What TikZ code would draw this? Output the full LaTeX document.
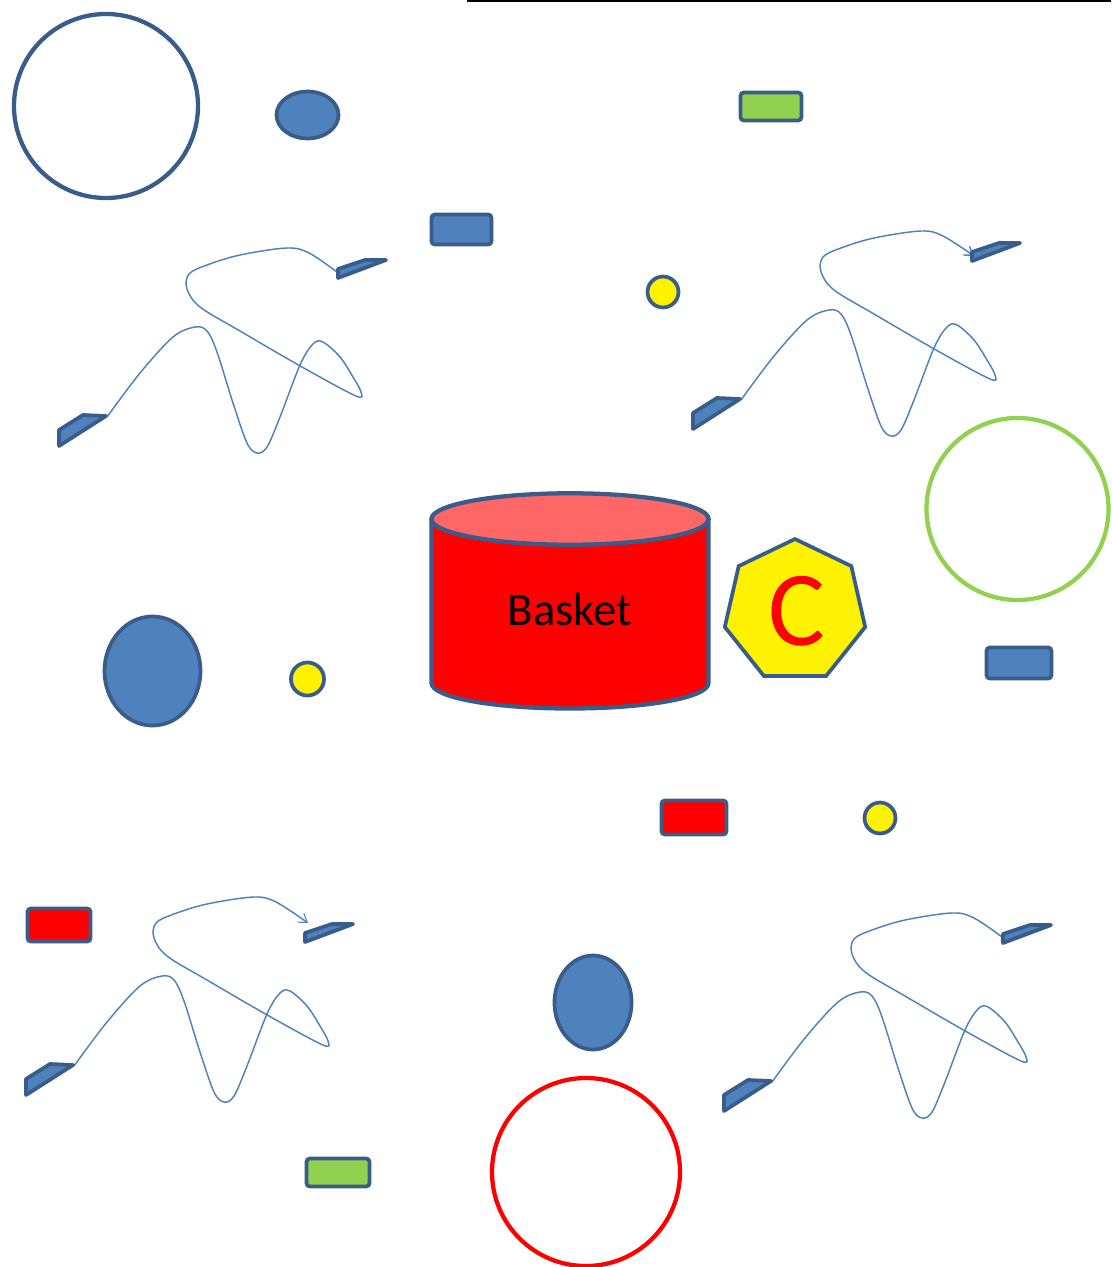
\documentclass[tikz,border=0pt]{standalone}
\usepackage{fontspec}
\setmainfont{Carlito}
\usetikzlibrary{arrows.meta}
\definecolor{dkblue}{HTML}{385D8A}
\definecolor{mdblue}{HTML}{4F81BD}
\definecolor{lgreen}{HTML}{92D050}
\definecolor{ltred}{HTML}{FF6666}
\tikzset{
  outl/.style={draw=dkblue,line width=2.8pt},
  bluebox/.style={outl,fill=mdblue,rounded corners=2.5pt},
  redbox/.style={outl,fill=red,rounded corners=2.5pt},
  greenbox/.style={outl,fill=lgreen,rounded corners=2.5pt},
  dot/.style={outl,fill=yellow},
  blob/.style={outl,fill=mdblue},
  squigline/.style={draw=mdblue,line width=1.1pt},
  plate/.style={draw=dkblue,fill=mdblue,line width=2.8pt,line join=round},
  ring/.style={line width=3.2pt},
}
\newcommand\squigcurve[2]{\draw[squigline,#1] plot[smooth,tension=0.55] coordinates {(107,417) (140,373) (173,337) (195,327) (207,331) (217,352) (233,403) (247,443) (257,453) (267,447) (280,417) (300,365) (313,344) (323,342) (340,357) (353,377) (361,392) (356,396) (302,367) (240,331) (200,307) (187,289) (189,274) (207,265) (240,255) (287,248) (309,253) #2};}
\newcommand\lowplate{\draw[plate] (59,430) -- (83,415) -- (106,416) -- (59,446) -- cycle;}
\newcommand\highplate{\draw[plate] (338,269) -- (365,260) -- (386,260) -- (338,278) -- cycle;}
\begin{document}
\begin{tikzpicture}[x=0.75pt,y=-0.75pt]
\useasboundingbox (0,0) rectangle (1111,1267);
% top edge line
\draw[black,line width=2.5pt] (467,0) -- (1111,0);

% squiggle 1 (top left)
\squigcurve{}{(337,272)}
\lowplate
\highplate
% squiggle 2 (top right)
\begin{scope}[shift={(634,-17)}]
\squigcurve{-{Straight Barb[length=6pt,width=8pt]}}{(340,273)}
\lowplate
\highplate
\end{scope}
% squiggle 3 (bottom left)
\begin{scope}[shift={(-33,649)}]
\squigcurve{-{Straight Barb[length=6pt,width=8pt,line width=0.8pt]}}{(341,274)}
\lowplate
\end{scope}
\begin{scope}[shift={(-33,664)}]
\highplate
\end{scope}
% squiggle 4 (bottom right)
\begin{scope}[shift={(665,665)}]
\squigcurve{}{(337,272)}
\lowplate
\highplate
\end{scope}

% circles and ellipses
\draw[ring,draw=dkblue] (106,106) circle[radius=69pt];
\draw[blob] (307.5,115) ellipse[x radius=23.25pt,y radius=17.6pt];
\draw[ring,draw=lgreen] (1017.5,509) circle[radius=68.25pt];
\draw[blob] (152.5,671) ellipse[x radius=36pt,y radius=40.9pt];
\draw[blob] (593,1002.5) ellipse[x radius=28.9pt,y radius=35.25pt];
\draw[ring,draw=red] (586,1172) circle[radius=70.5pt];

% small yellow dots
\draw[dot] (663,292) circle[radius=11.6pt];
\draw[dot] (307.5,679) circle[radius=12.4pt];
\draw[dot] (880,818) circle[radius=11.6pt];

% rectangles
\draw[bluebox] (431.5,214.5) rectangle (491.5,244.5);
\draw[greenbox] (740.5,92.5) rectangle (801.5,120.5);
\draw[bluebox] (986.5,647.5) rectangle (1051.5,678.5);
\draw[redbox] (661.5,800.5) rectangle (726.5,834.5);
\draw[redbox] (27.5,908.5) rectangle (90.5,941.5);
\draw[greenbox] (306.5,1158.5) rectangle (369.5,1186.5);

% cylinder "Basket"
\draw[outl,line width=3.2pt,fill=red,line join=round] (431.5,519) -- (431.5,683)
  .. controls (431.5,697.5) and (493.5,708.5) .. (570,708.5)
  .. controls (646.5,708.5) and (708.5,697.5) .. (708.5,683) -- (708.5,519) -- cycle;
\draw[outl,line width=3.2pt,fill=ltred] (570,519) ellipse[x radius=103.9pt,y radius=19.3pt];
\node[font=\fontsize{35pt}{40pt}\selectfont,text=black,inner sep=0pt] (basket) at (570,609) {Basket};

% heptagon "C"
\draw[outl,fill=yellow,line join=miter] (795,539) -- (851.3,566.1) -- (865.2,627) -- (826.2,675.9) -- (763.8,675.9) -- (724.8,627) -- (738.7,566.1) -- cycle;
\node[font=\fontsize{80pt}{90pt}\selectfont,text=red,inner sep=0pt] (cee) at (797,611) {C};
\end{tikzpicture}
\end{document}
